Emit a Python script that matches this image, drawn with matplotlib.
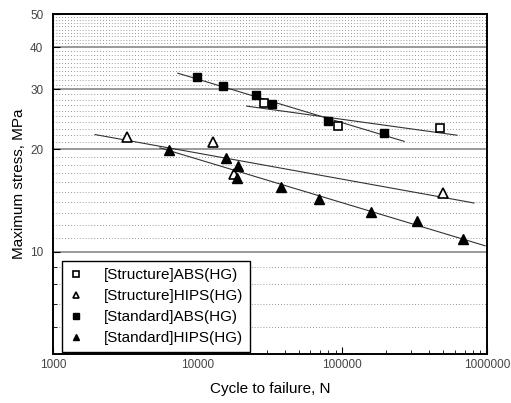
import matplotlib
matplotlib.use('Agg')
import matplotlib.pyplot as plt
from matplotlib.ticker import FixedLocator, NullFormatter

plt.rcParams['font.family'] = ['Liberation Sans', 'DejaVu Sans']

# data
n_struct_abs = [28500, 93800, 474000]
s_struct_abs = [27.3, 23.5, 23.1]
n_struct_hips = [3240, 12700, 17700, 497000]
s_struct_hips = [21.8, 21.0, 16.9, 14.9]
n_std_abs = [9840, 14900, 25100, 32400, 80000, 195000]
s_std_abs = [32.6, 30.7, 28.8, 27.2, 24.3, 22.4]
n_std_hips = [6300, 15800, 18900, 18600, 37900, 69400, 159000, 329000, 683000]
s_std_hips = [19.9, 18.8, 17.8, 16.5, 15.5, 14.3, 13.1, 12.3, 10.9]

# fitted lines (end points)
fit_struct_abs_n = [21800, 621000]
fit_struct_abs_s = [26.8, 22.0]
fit_std_abs_n = [7280, 268000]
fit_std_abs_s = [33.5, 21.1]
fit_struct_hips_n = [1950, 813000]
fit_struct_hips_s = [22.1, 13.9]
fit_std_hips_n = [5470, 970000]
fit_std_hips_s = [20.2, 10.4]

x_ticks = [1000, 10000, 100000, 1000000]
y_ticks = [10, 20, 30, 40, 50]

fig = plt.figure(figsize=(5.11, 4.03), dpi=100)
ax = fig.add_axes([0.104, 0.122, 0.849, 0.843])

ax.set_xscale('log')
ax.set_yscale('log')
ax.set_xlim(1000, 1000000)
ax.set_ylim(5, 50)

# grid
for v in range(6, 50):
    if v not in y_ticks:
        ax.axhline(v, color='#777777', lw=0.6, ls=(0, (1, 2.5)), zorder=0)
for v in y_ticks:
    ax.axhline(v, color='#888888', lw=1.2, zorder=0)

lc = '#333333'
ax.plot(fit_struct_abs_n, fit_struct_abs_s, color=lc, lw=0.8)
ax.plot(fit_std_abs_n, fit_std_abs_s, color=lc, lw=0.8)
ax.plot(fit_struct_hips_n, fit_struct_hips_s, color=lc, lw=0.8)
ax.plot(fit_std_hips_n, fit_std_hips_s, color=lc, lw=0.8)

ax.plot(n_struct_abs, s_struct_abs, 's', ms=5.5, mfc='white', mec='black', mew=1.2, ls='none',
        label='[Structure]ABS(HG)')
ax.plot(n_struct_hips, s_struct_hips, '^', ms=6.5, mfc='white', mec='black', mew=1.2, ls='none',
        label='[Structure]HIPS(HG)')
ax.plot(n_std_abs, s_std_abs, 's', ms=5.5, mfc='black', mec='black', ls='none',
        label='[Standard]ABS(HG)')
ax.plot(n_std_hips, s_std_hips, '^', ms=6.5, mfc='black', mec='black', ls='none',
        label='[Standard]HIPS(HG)')

ax.xaxis.set_major_locator(FixedLocator(x_ticks))
ax.set_xticklabels([str(t) for t in x_ticks])
ax.yaxis.set_major_locator(FixedLocator(y_ticks))
ax.set_yticklabels([str(t) for t in y_ticks])
ax.yaxis.set_minor_formatter(NullFormatter())
ax.xaxis.set_minor_formatter(NullFormatter())
ax.tick_params(which='both', direction='in', colors='black', labelcolor='#444444', labelsize=8.5)
ax.tick_params(which='major', length=5)
ax.tick_params(which='minor', length=3)
ax.tick_params(axis='y', pad=7)

for sp in ax.spines.values():
    sp.set_linewidth(1.4)

ax.set_xlabel('Cycle to failure, N', fontsize=11, labelpad=8)
ax.set_ylabel('Maximum stress, MPa', fontsize=11, labelpad=3)

leg = ax.legend(loc='lower left', bbox_to_anchor=(0.02, 0.006), borderaxespad=0,
                fontsize=11, markerscale=0.7, fancybox=False, framealpha=1,
                edgecolor='black', handlelength=1.0, handletextpad=1.3,
                labelspacing=0.45, borderpad=0.45)
leg.get_frame().set_linewidth(1.0)

fig.savefig('out.png', dpi=100)
